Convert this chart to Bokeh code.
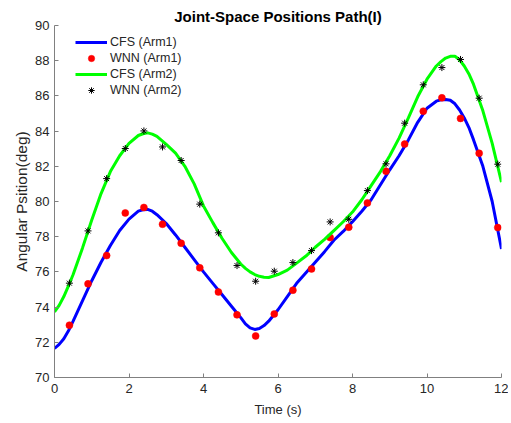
from bokeh.plotting import figure
from bokeh.models import Range1d, FixedTicker, Legend, LegendItem
from bokeh.embed import file_html
from bokeh.resources import INLINE

# ---- data ----
t_curve = [0.0, 0.125, 0.25, 0.375, 0.5, 0.75, 1.0, 1.25, 1.5, 1.75, 2.0, 2.25, 2.375, 2.5, 2.625, 2.75,
           3.0, 3.25, 3.5, 3.75, 4.0, 4.25, 4.5, 4.75, 5.0, 5.125, 5.25, 5.375, 5.5, 5.625, 5.75,
           6.0, 6.25, 6.5, 6.75, 7.0, 7.25, 7.5, 7.75, 8.0, 8.25, 8.5, 8.75,
           9.0, 9.25, 9.5, 9.75, 10.0, 10.25, 10.375, 10.5, 10.625, 10.75, 10.875, 11.0, 11.125,
           11.25, 11.5, 11.75, 12.0]

cfs_arm1 = [71.65, 71.88, 72.2, 72.65, 73.2, 74.35, 75.5, 76.55, 77.5, 78.35, 79.0, 79.45, 79.53, 79.55, 79.45, 79.25,
            78.75, 78.1, 77.4, 76.7, 76.0, 75.35, 74.7, 74.05, 73.4, 73.05, 72.82, 72.73, 72.78, 72.95, 73.2,
            73.85, 74.6, 75.35, 75.95, 76.55, 77.15, 77.8, 78.3, 78.85, 79.45, 80.1, 80.95,
            81.8, 82.6, 83.5, 84.5, 85.3, 85.7, 85.78, 85.8, 85.75, 85.55, 85.2, 84.75, 84.2,
            83.5, 82.0, 80.0, 77.3]

cfs_arm2 = [73.73, 74.1, 74.6, 75.2, 75.85, 77.35, 78.95, 80.45, 81.7, 82.6, 83.3, 83.75, 83.85, 83.9, 83.83, 83.7,
            83.25, 82.75, 82.0, 81.0, 79.75, 78.8, 77.9, 77.1, 76.45, 76.2, 76.0, 75.85, 75.75, 75.7, 75.68,
            75.85, 76.1, 76.5, 76.9, 77.4, 77.85, 78.35, 78.85, 79.4, 80.1, 80.9, 81.7,
            82.6, 83.6, 84.75, 85.95, 86.95, 87.7, 87.95, 88.15, 88.25, 88.25, 88.05, 87.7, 87.25,
            86.65, 85.15, 83.3, 81.1]

t_wnn = [0.4, 0.9, 1.4, 1.9, 2.4, 2.9, 3.4, 3.9, 4.4, 4.9, 5.4, 5.9,
         6.4, 6.9, 7.4, 7.9, 8.4, 8.9, 9.4, 9.9, 10.4, 10.9, 11.4, 11.9]

wnn_arm1 = [72.97, 75.32, 76.93, 79.35, 79.66, 78.71, 77.63, 76.23, 74.86, 73.56, 72.36, 73.61,
            74.96, 76.17, 77.95, 78.54, 79.92, 81.72, 83.26, 85.13, 85.89, 84.72, 82.74, 78.52]

wnn_arm2 = [75.36, 78.33, 81.30, 83.01, 84.01, 83.10, 82.33, 79.85, 78.22, 76.36, 75.47, 76.04,
            76.53, 77.21, 78.84, 78.99, 80.62, 82.14, 84.45, 86.63, 87.61, 88.07, 85.87, 82.12]

x_ticks = [0, 2, 4, 6, 8, 10, 12]
y_ticks = [70, 72, 74, 76, 78, 80, 82, 84, 86, 88, 90]

title_text = "Joint-Space Positions Path(I)"
x_label = "Time (s)"
y_label = "Angular Psition(deg)"
series_labels = ["CFS (Arm1)", "WNN (Arm1)", "CFS (Arm2)", "WNN (Arm2)"]

FONT = "Liberation Sans"
TXT = "#262626"
AX = "#808080"

p = figure(width=508, height=421, output_backend="svg", toolbar_location=None,
           x_range=Range1d(0, 12), y_range=Range1d(70, 90),
           min_border_left=54, min_border_right=7, min_border_top=25, min_border_bottom=44,
           title=title_text)

p.title.align = "center"
p.title.text_font = FONT
p.title.text_font_size = "15px"
p.title.text_font_style = "bold"
p.title.text_color = "#000000"
p.title.standoff = 2

p.xgrid.visible = False
p.ygrid.visible = False
p.outline_line_color = None
p.background_fill_color = "white"
p.border_fill_color = "white"

for ax, ticks, lab, lstand, astand, lsize in ((p.xaxis[0], x_ticks, x_label, 6, 6, "13px"),
                                              (p.yaxis[0], y_ticks, y_label, 5, 2, "15.5px")):
    ax.ticker = FixedTicker(ticks=ticks)
    ax.major_tick_in = 4
    ax.major_tick_out = 0
    ax.minor_tick_in = 0
    ax.minor_tick_out = 0
    ax.axis_line_color = AX
    ax.major_tick_line_color = AX
    ax.major_label_text_font = FONT
    ax.major_label_text_font_size = "13px"
    ax.major_label_text_color = TXT
    ax.major_label_standoff = lstand
    ax.axis_label = lab
    ax.axis_label_text_font = FONT
    ax.axis_label_text_font_size = lsize
    ax.axis_label_text_font_style = "normal"
    ax.axis_label_text_color = TXT
    ax.axis_label_standoff = astand

r1 = p.line(t_curve, cfs_arm1, line_color="#0000FF", line_width=3)
r2 = p.scatter(t_wnn, wnn_arm1, marker="circle", size=7, fill_color="#FF0000", line_color="#FF0000", line_width=0.5)
r3 = p.line(t_curve, cfs_arm2, line_color="#00FF00", line_width=3)
r4 = p.scatter(t_wnn, wnn_arm2, marker="asterisk", size=7, line_color="#000000", line_width=1)

legend = Legend(items=[LegendItem(label=series_labels[0], renderers=[r1]),
                       LegendItem(label=series_labels[1], renderers=[r2]),
                       LegendItem(label=series_labels[2], renderers=[r3]),
                       LegendItem(label=series_labels[3], renderers=[r4])],
                location=(21, 279))
legend.border_line_color = None
legend.background_fill_alpha = 0
legend.padding = 0
legend.margin = 0
legend.spacing = 0
legend.glyph_width = 32
legend.glyph_height = 16
legend.label_height = 16
legend.label_standoff = 3
legend.label_text_font = FONT
legend.label_text_font_size = "12.5px"
legend.label_text_color = TXT
p.add_layout(legend)

open("out.html", "w").write(file_html(p, INLINE))
